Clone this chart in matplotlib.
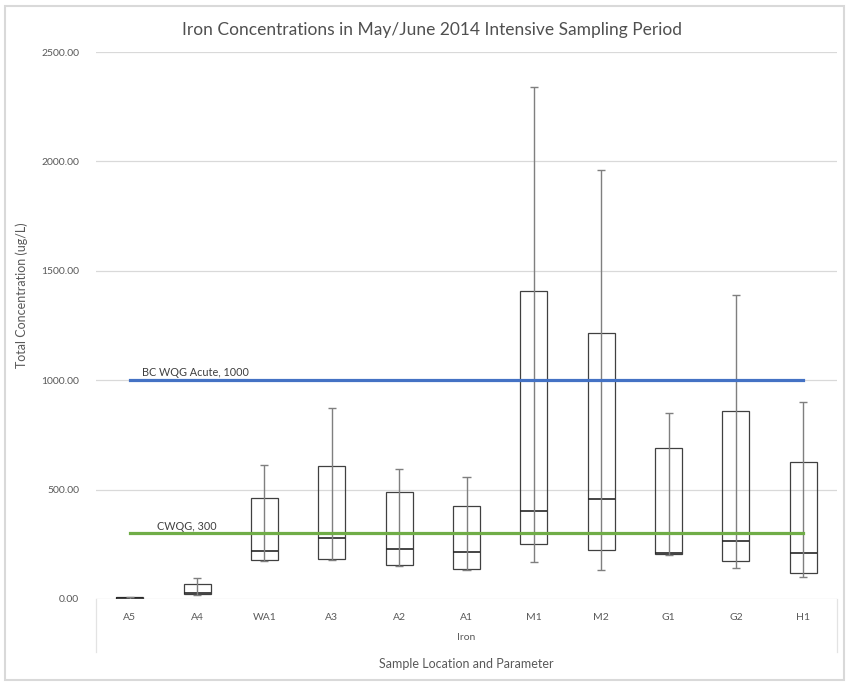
import matplotlib
matplotlib.use("Agg")
import matplotlib.pyplot as plt
from matplotlib.patches import Rectangle
from matplotlib.lines import Line2D

# Iron box-plot statistics per sampling site (ug/L)
sites = ["A5", "A4", "WA1", "A3", "A2", "A1", "M1", "M2", "G1", "G2", "H1"]
minimum = [1, 20, 172, 176, 150, 134, 168, 132, 203, 143, 102]
q1 = [2, 23, 178, 183, 155, 137, 251, 224, 206, 174, 120]
median = [4, 27, 219, 279, 227, 215, 404, 456, 210, 265, 209]
q3 = [7, 68, 462, 608, 490, 425, 1408, 1217, 692, 861, 626]
maximum = [10, 95, 612, 873, 594, 559, 2341, 1961, 849, 1390, 902]

# Water quality guidelines
acute_guideline = 1000
cwqg_guideline = 300
acute_label = "BC WQG Acute, 1000"
cwqg_label = "CWQG, 300"

yticks = [0, 500, 1000, 1500, 2000, 2500]

plt.rcParams['font.family'] = ['Lato', 'DejaVu Sans']

W, H = 849, 684
fig = plt.figure(figsize=(W / 100, H / 100), dpi=100)
fig.patch.set_facecolor("white")

# chart-area frame
fig.add_artist(Rectangle((5 / W, 4 / H), 839 / W, 674 / H, transform=fig.transFigure,
                         fill=False, edgecolor="#d9d9d9", linewidth=1.5))

ax = fig.add_axes([96 / W, 85 / H, 741 / W, 547 / H])
x = list(range(len(sites)))

ax.set_xlim(-0.5, len(sites) - 0.5)
ax.set_ylim(0, 2500)
ax.set_yticks(yticks, [f"{v:.2f}" for v in yticks])
ax.set_xticks(x, sites)
ax.yaxis.grid(True, color="#d9d9d9", linewidth=0.9)
ax.set_axisbelow(True)
for s in ax.spines.values():
    s.set_visible(False)
ax.tick_params(axis="both", length=0, colors="#595959", labelsize=7.5)
ax.tick_params(axis="y", pad=12)
ax.tick_params(axis="x", pad=10)

# boxes (Q1..Q3)
heights = [b - a for a, b in zip(q1, q3)]
ax.bar(x, heights, bottom=q1, width=0.4, fill=False, edgecolor="#404040",
       linewidth=0.9, zorder=3)
# median lines
ax.hlines(median, [i - 0.2 for i in x], [i + 0.2 for i in x], color="#262626",
          linewidth=1.2, zorder=4)
# whiskers spanning min to max with small caps
ax.vlines(x, minimum, maximum, color="#7f7f7f", linewidth=1.0, zorder=5)
ax.hlines(maximum, [i - 0.06 for i in x], [i + 0.06 for i in x], color="#7f7f7f",
          linewidth=1.0, zorder=5)
ax.hlines(minimum, [i - 0.06 for i in x], [i + 0.06 for i in x], color="#7f7f7f",
          linewidth=1.0, zorder=5)

# guideline series
ax.plot(x, [acute_guideline] * len(x), color="#4472C4", linewidth=2.3, zorder=6)
ax.plot(x, [cwqg_guideline] * len(x), color="#70AD47", linewidth=2.3, zorder=6)
ax.text(0.18, acute_guideline + 8, acute_label, fontsize=7.8, color="#404040",
        va="bottom", ha="left", zorder=7)
ax.text(0.40, cwqg_guideline + 8, cwqg_label, fontsize=7.8, color="#404040",
        va="bottom", ha="left", zorder=7)

# multi-level category axis separators
for px in (96, 837):
    fig.add_artist(Line2D([px / W, px / W], [(H - 599) / H, (H - 652) / H],
                          transform=fig.transFigure, color="#e3e3e3", linewidth=0.9))

fig.text(466 / W, (H - 637) / H, "Iron", ha="center", va="center",
         fontsize=7.5, color="#595959")
fig.text(466 / W, (H - 664) / H, "Sample Location and Parameter", ha="center",
         va="center", fontsize=9, color="#595959")
fig.text(22 / W, (H - 295) / H, "Total Concentration (ug/L)", rotation=90,
         ha="center", va="center", fontsize=9, color="#595959")
fig.text(432 / W, (H - 30) / H,
         "Iron Concentrations in May/June 2014 Intensive Sampling Period",
         ha="center", va="center", fontsize=12.5, color="#505050")

fig.savefig("out.png", dpi=100, facecolor="white")
